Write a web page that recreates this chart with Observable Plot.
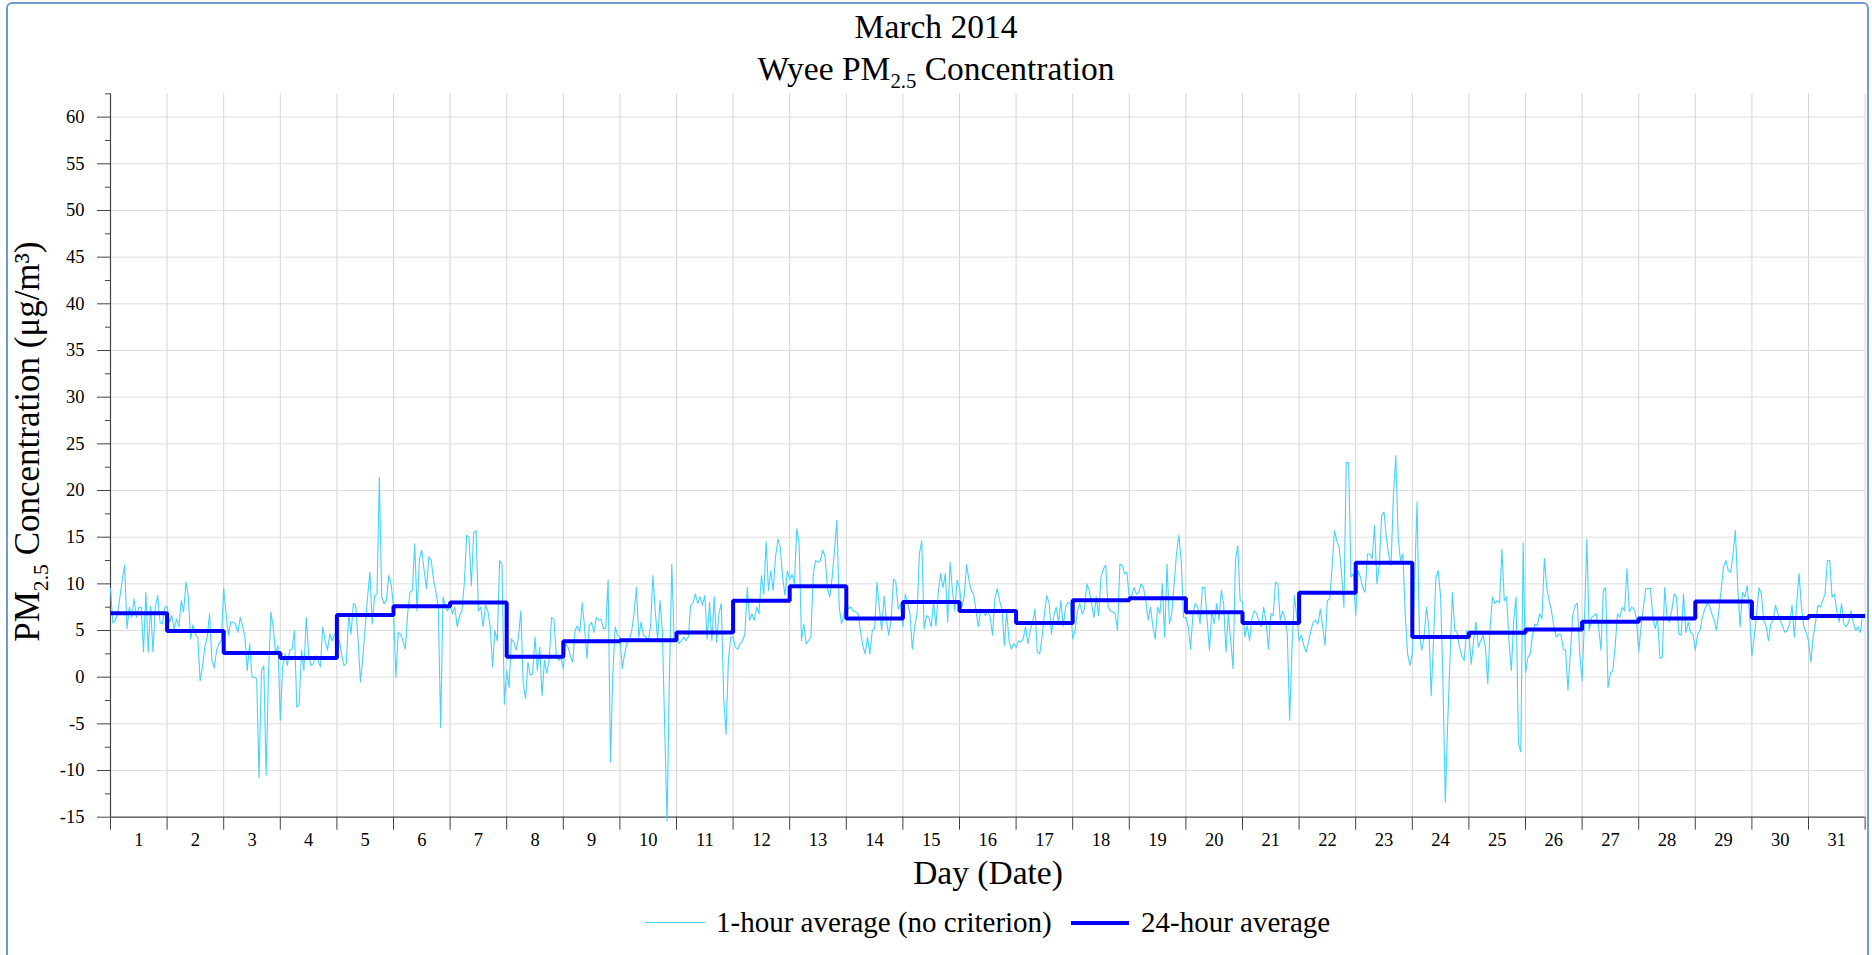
<!DOCTYPE html>
<html>
<head>
<meta charset="utf-8">
<script src="https://cdn.jsdelivr.net/npm/d3@7"></script>
<script src="https://cdn.jsdelivr.net/npm/@observablehq/plot@0.6"></script>
<style>
  body { margin: 0; background: #fff; }
  #wrap { position: relative; width: 1872px; height: 955px; overflow: hidden; font-family: "Liberation Serif", serif; color: #000; }
  #frame { position: absolute; left: 6px; top: 2px; width: 1863px; height: 1000px; border: 2px solid #6f9bd3; border-radius: 6px; box-sizing: border-box; }
  #chart { position: absolute; left: 0; top: 0; }
  .t { position: absolute; white-space: nowrap; line-height: 1; }
  .sub { font-size: 0.62em; position: relative; top: 0.4em; }
  #title1, #title2 { left: 0; width: 1872px; text-align: center; font-size: 33.5px; }
  #title1 { top: 10px; }
  #title2 { top: 52px; }
  #ylab { left: -273px; top: 424px; width: 600px; text-align: center; font-size: 35px; transform: rotate(-90deg); }
  #xlab { left: 688px; width: 600px; top: 856px; text-align: center; font-size: 33.5px; }
  .leg { top: 908px; font-size: 29px; }
  .sw { position: absolute; }
</style>
</head>
<body>
<div id="wrap">
  <div id="frame"></div>
  <div id="chart"></div>
  <div class="t" id="title1">March 2014</div>
  <div class="t" id="title2">Wyee PM<span class="sub">2.5</span> Concentration</div>
  <div class="t" id="ylab">PM<span class="sub">2.5</span> Concentration (μg/m³)</div>
  <div class="t" id="xlab">Day (Date)</div>
  <div class="sw" style="left:645px;top:922px;width:60px;height:1px;background:#46d2ff;"></div>
  <div class="t leg" style="left:716px;">1-hour average (no criterion)</div>
  <div class="sw" style="left:1071px;top:921px;width:58px;height:4px;background:#0000ff;"></div>
  <div class="t leg" style="left:1141px;">24-hour average</div>
</div>
<script>
// Day labels (1..31)
const dayLabels = d3.range(1, 32);

// 24-hour averages, one value per day
const daily = [6.85, 4.95, 2.6, 2.05, 6.65, 7.6, 8.0, 2.2, 3.85, 3.95, 4.8, 8.2, 9.75, 6.3, 8.05, 7.1,
  5.8, 8.25, 8.45, 6.95, 5.8, 9.05, 12.25, 4.3, 4.75, 5.1, 5.95, 6.3, 8.1, 6.35, 6.55];

// 1-hour averages, one row of 24 hourly values per day
const hourly = [
  [9.5, 5.8, 6.1, 6.8, 8.6, 10.4, 12.0, 5.2, 7.5, 6.4, 8.4, 6.4, 7.5, 7.5, 2.7, 9.1, 2.7, 7.6, 2.7, 7.5, 8.75, 5.9, 5.7, 7.5],
  [7.6, 5.9, 6.6, 5.2, 6.25, 5.4, 8.2, 7.0, 10.2, 8.6, 4.1, 5.6, 4.6, 4.3, -0.4, 1.1, 3.2, 4.3, 6.8, 1.8, 1.0, 2.9, 3.6, 3.9],
  [9.5, 6.8, 4.5, 5.9, 5.9, 5.7, 4.8, 6.4, 5.5, 4.3, 0.7, 3.6, 0, 0, -0.2, -10.8, 0.7, 1.2, -10.5, 0.5, 7.0, 5.4, 2.5, 3.4],
  [-4.6, 1.1, 2.5, 1.25, 2.9, 3.0, 5.0, -3.2, -3.0, 2.9, 0.7, 6.4, 2.5, 1.25, 1.4, 2.3, 1.8, 1.1, 5.4, 3.9, 2.9, 4.6, 3.9, 4.6],
  [4.1, 3.9, 2.5, 1.25, 1.5, 6.8, 4.6, 7.9, 7.7, 3.9, -0.5, 2.1, 5.4, 8.6, 11.25, 5.7, 8.75, 8.9, 21.4, 8.6, 7.9, 8.2, 10.9, 10.0],
  [7.5, 0, 4.8, 4.6, 3.9, 3.0, 6.8, 9.1, 9.3, 14.3, 7.1, 12.7, 13.6, 11.4, 9.5, 12.9, 12.5, 10.4, 9.1, 7.5, -5.4, 8.6, 7.5, 7.1],
  [7.9, 6.8, 7.5, 5.4, 6.6, 7.1, 10.0, 15.2, 15.0, 9.8, 15.5, 15.7, 7.1, 7.5, 5.4, 7.7, 7.1, 5.4, 1.1, 5.0, 3.9, 12.5, 12.1, -2.9],
  [0.7, -1.1, 4.1, 3.75, 2.9, 4.3, 7.1, -0.7, -2.3, 1.6, 0.2, 0.4, 4.3, 0.7, 3.2, -2.0, 1.8, 0.4, 1.8, 6.4, 6.25, 2.5, 1.8, 2.1],
  [0.9, 3.6, 3.2, 2.3, 1.6, 5.0, 5.5, 4.8, 8.0, 5.4, 2.0, 5.5, 5.9, 4.8, 6.4, 6.1, 6.25, 5.2, 5.2, 10.4, -9.1, 0.4, 5.4, 4.5],
  [4.3, 0.9, 2.5, 3.6, 3.9, 5.0, 6.8, 9.6, 4.3, 5.9, 4.5, 4.3, 3.9, 5.4, 10.9, 7.1, 3.9, 8.2, 5.0, -5.4, -15.4, 0, 12.1, 3.9],
  [4.3, 3.6, 3.9, 4.3, 3.9, 4.3, 7.7, 8.0, 8.9, 7.9, 8.6, 7.7, 8.75, 4.1, 8.0, 3.9, 8.6, 3.75, 6.8, 7.9, -2.1, -6.1, 1.8, 4.3],
  [4.3, 3.2, 3.0, 3.6, 3.9, 4.6, 9.6, 6.1, 6.8, 6.1, 7.5, 6.8, 10.9, 8.9, 14.5, 9.3, 11.4, 9.3, 12.9, 14.8, 13.9, 10.7, 8.75, 11.4],
  [10.5, 11.0, 10.0, 15.9, 14.3, 3.9, 5.7, 3.6, 3.9, 4.3, 11.1, 12.5, 12.3, 12.5, 13.6, 12.9, 9.5, 8.6, 10.7, 13.6, 16.8, 7.5, 5.7, 6.8],
  [8.2, 7.3, 7.5, 7.1, 7.0, 6.8, 5.0, 3.4, 2.5, 4.3, 2.5, 5.0, 5.2, 10.2, 7.5, 5.0, 8.7, 6.1, 4.5, 6.1, 10.5, 10.2, 7.3, 7.9],
  [5.4, 8.9, 7.9, 6.8, 3.0, 5.4, 6.8, 13.2, 14.6, 5.2, 6.6, 6.4, 5.4, 8.0, 5.5, 9.1, 11.1, 9.6, 11.1, 5.9, 12.3, 9.3, 7.1, 10.4],
  [9.6, 7.5, 8.6, 12.1, 10.4, 9.3, 8.9, 7.1, 5.4, 7.3, 7.0, 6.6, 7.1, 6.4, 4.5, 8.4, 9.5, 8.2, 7.3, 3.4, 7.1, 3.9, 3.0, 3.6],
  [3.2, 3.9, 3.75, 4.1, 5.4, 3.6, 5.0, 5.9, 7.3, 2.7, 2.5, 4.3, 6.8, 8.75, 7.9, 4.6, 6.6, 7.5, 5.9, 8.2, 5.5, 7.5, 8.0, 7.9],
  [4.1, 5.0, 7.1, 7.9, 6.8, 7.3, 10.0, 9.3, 7.9, 6.4, 8.6, 6.6, 10.7, 11.6, 12.0, 7.5, 7.1, 7.0, 6.8, 5.0, 12.1, 12.0, 11.1, 11.25],
  [8.4, 8.75, 9.6, 8.9, 9.1, 10.0, 9.6, 8.2, 6.1, 7.5, 5.4, 4.1, 7.5, 6.8, 10.0, 4.3, 12.1, 5.7, 6.8, 10.0, 13.2, 15.2, 12.5, 6.4],
  [6.4, 5.4, 3.0, 6.8, 7.9, 7.5, 5.7, 9.6, 9.6, 6.1, 2.9, 7.1, 5.7, 7.9, 6.1, 9.3, 7.9, 2.7, 6.8, 3.9, 0.9, 12.5, 14.1, 8.2],
  [8.0, 4.3, 5.5, 3.9, 6.25, 7.1, 6.8, 5.9, 5.4, 7.5, 5.9, 3.0, 6.8, 6.6, 10.2, 10.0, 6.1, 7.1, 6.4, 4.6, -4.6, 3.2, 8.75, 6.6],
  [3.9, 4.5, 3.4, 2.7, 3.75, 5.0, 5.9, 6.1, 5.7, 7.3, 5.4, 3.4, 8.2, 8.4, 11.8, 15.7, 14.6, 13.9, 11.1, 7.5, 23.0, 23.0, 10.7, 11.1],
  [6.6, 11.4, 10.7, 9.6, 9.1, 13.2, 13.2, 12.7, 16.25, 10.0, 12.0, 17.3, 17.7, 15.0, 13.0, 12.0, 19.6, 23.75, 15.0, 12.5, 13.2, 6.8, 2.5, 1.25],
  [2.5, 10.4, 18.75, 4.6, 2.9, 4.3, 7.5, 5.4, -2.0, 3.9, 10.7, 11.4, 8.6, -0.4, -13.4, -5.0, 2.1, 9.1, 5.0, 4.8, 3.2, 2.3, 1.8, 5.0],
  [4.6, 1.4, 3.9, 5.9, 3.2, 3.9, 4.5, 3.2, -0.7, 5.4, 8.6, 7.9, 8.2, 8.0, 13.7, 8.2, 8.6, 3.9, 0.7, 6.1, 8.6, -7.1, -8.0, 14.4],
  [0.5, 2.1, 2.5, 4.6, 5.7, 5.5, 6.8, 6.25, 12.7, 9.6, 8.2, 7.1, 5.5, 4.3, 4.6, 4.6, 3.0, 2.9, -1.4, 2.5, 6.6, 7.7, 7.9, 2.5],
  [-0.4, 6.1, 14.8, 5.0, 6.4, 6.6, 6.8, 5.4, 2.9, 9.3, 9.6, -1.1, 0.4, 0.7, 3.2, 6.8, 6.4, 7.5, 7.1, 11.6, 7.0, 7.5, 7.3, 6.4],
  [2.7, 5.4, 7.5, 9.5, 9.5, 9.5, 6.4, 5.2, 6.25, 2.0, 2.1, 9.6, 6.4, 5.9, 7.1, 8.9, 8.6, 4.6, 4.5, 8.9, 4.8, 5.9, 4.8, 4.6],
  [2.9, 4.6, 5.0, 6.4, 7.3, 7.9, 7.7, 6.8, 6.1, 5.0, 7.1, 9.5, 11.8, 12.5, 11.4, 11.25, 13.2, 15.7, 9.6, 5.4, 9.1, 8.6, 9.8, 6.8],
  [2.3, 4.3, 6.8, 9.6, 8.9, 6.1, 5.5, 3.9, 5.7, 6.1, 7.7, 6.8, 6.1, 5.5, 4.8, 5.0, 5.7, 7.7, 4.3, 7.9, 11.1, 7.5, 5.4, 4.8],
  [3.9, 1.6, 4.3, 5.9, 7.7, 7.5, 8.2, 8.9, 12.5, 12.5, 8.6, 8.9, 7.1, 5.9, 7.9, 5.7, 5.4, 5.9, 7.1, 5.9, 5.0, 5.4, 4.8, 6.8]
];

// Y axis ticks
const yTicks = d3.range(-15, 61, 5);
const yMinor = d3.range(-12.5, 63, 5);

const hourlyData = hourly.flatMap((row, d) => row.map((v, h) => ({t: d + h / 24, v})));
const dailyData = daily.map((v, d) => ({t: d, v})).concat([{t: daily.length, v: daily[daily.length - 1]}]);

const chart = Plot.plot({
  width: 1872,
  height: 870,
  marginLeft: 110,
  marginRight: 7.4,
  marginTop: 93.3,
  marginBottom: 53.3,
  x: {domain: [0, 31]},
  y: {domain: [-15, 62.5]},
  style: {fontFamily: "'Liberation Serif', serif", fontSize: "18.5px", color: "#000", background: "transparent", overflow: "visible"},
  marks: [
    Plot.gridX(d3.range(1, 32), {stroke: "#d6d6d6", strokeOpacity: 1, strokeWidth: 1}),
    Plot.gridY(yTicks.filter(d => d > -15), {stroke: "#dedede", strokeOpacity: 1, strokeWidth: 1}),
    Plot.axisY(yTicks, {tickSize: 13, tickPadding: 13, tickFormat: d => String(d), label: null, stroke: "#444"}),
    Plot.axisY(yMinor, {tickSize: 5, tickFormat: () => "", label: null, stroke: "#444"}),
    Plot.axisX(d3.range(0, 32), {tickSize: 13, tickFormat: () => "", label: null, stroke: "#444"}),
    Plot.axisX(dayLabels.map(d => d - 0.5), {tickSize: 0, tickPadding: 16, tickFormat: d => String(d + 0.5), label: null}),
    Plot.ruleX([0], {stroke: "#444", strokeWidth: 1.2}),
    Plot.ruleY([-15], {stroke: "#444", strokeWidth: 1.2}),
    Plot.line(hourlyData, {x: "t", y: "v", stroke: "#46d2ff", strokeWidth: 1.1}),
    Plot.line(dailyData, {x: "t", y: "v", curve: "step-after", stroke: "#0000ff", strokeWidth: 4, strokeLinejoin: "miter", strokeLinecap: "butt"})
  ]
});
document.getElementById("chart").appendChild(chart);
</script>
</body>
</html>
